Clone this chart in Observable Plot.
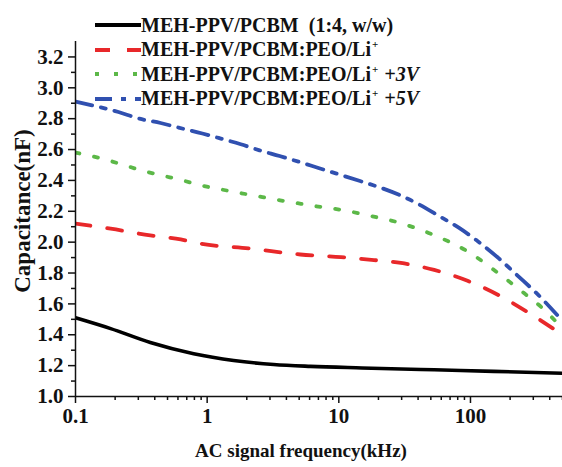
<!DOCTYPE html>
<html>
<head>
<meta charset="utf-8">
<script src="https://cdn.jsdelivr.net/npm/d3@7"></script>
<script src="https://cdn.jsdelivr.net/npm/@observablehq/plot@0.6"></script>
<style>
  html, body { margin: 0; padding: 0; background: #fff; }
  #wrap { position: relative; width: 562px; height: 467px; }
  #legend { position: absolute; left: 93px; top: 13px; font-family: "Liberation Serif", "Times New Roman", serif; font-weight: bold; font-size: 20px; color: #111; }
  .row { display: flex; align-items: center; height: 24.5px; white-space: nowrap; }
  .row svg { width: 48px; height: 10px; margin-right: 0px; }
  .row sup { font-size: 11px; vertical-align: 8px; margin-left: 1px; }
  .it { font-style: italic; margin-left: 6px; }
</style>
</head>
<body>
<div id="wrap"><div id="chart"></div><div id="legend"></div></div>
<script>
// ---- data ----
const seriesNames = [
  "MEH-PPV/PCBM (1:4, w/w)",
  "MEH-PPV/PCBM:PEO/Li+",
  "MEH-PPV/PCBM:PEO/Li+ +3V",
  "MEH-PPV/PCBM:PEO/Li+ +5V"
];
const blackFreq = [0.1, 0.185, 0.37, 0.79, 1.59, 3.2, 6.1, 15, 53, 150, 500];
const blackCap  = [1.51, 1.44, 1.35, 1.277, 1.233, 1.207, 1.195, 1.185, 1.173, 1.163, 1.151];

const redFreq = [0.1, 0.185, 0.37, 0.63, 0.893, 2.14, 5.1, 10.4, 18.5, 29.6, 53, 95, 165, 280, 500];
const redCap  = [2.12, 2.087, 2.044, 2.018, 1.99, 1.958, 1.92, 1.903, 1.884, 1.865, 1.82, 1.75, 1.655, 1.54, 1.40];

const greenFreq = [0.1, 0.169, 0.236, 0.329, 0.459, 0.65, 0.893, 1.27, 1.74, 2.43, 3.37, 4.72, 6.56, 9.13, 12.8, 18, 25, 48, 95, 180, 255, 355, 500];
const greenCap  = [2.58, 2.535, 2.498, 2.461, 2.431, 2.40, 2.368, 2.342, 2.32, 2.297, 2.275, 2.254, 2.234, 2.217, 2.195, 2.167, 2.14, 2.06, 1.94, 1.77, 1.67, 1.57, 1.44];

const blueFreq = [0.1, 0.212, 0.306, 0.443, 0.607, 0.92, 1.27, 1.8, 2.5, 3.55, 5.0, 7.1, 10.2, 14.5, 20.9, 29, 41, 57, 82, 110, 165, 230, 330, 500];
const blueCap  = [2.91, 2.843, 2.80, 2.772, 2.742, 2.704, 2.671, 2.634, 2.595, 2.558, 2.52, 2.479, 2.437, 2.396, 2.352, 2.305, 2.243, 2.172, 2.092, 2.015, 1.893, 1.78, 1.655, 1.49];

const xTickValues = [0.1, 1, 10, 100];
const xTickLabels = ["0.1", "1", "10", "100"];
const xMinorTicks = [0.2,0.3,0.4,0.5,0.6,0.7,0.8,0.9, 2,3,4,5,6,7,8,9, 20,30,40,50,60,70,80,90, 200,300,400,500];
const yTickValues = [1.0, 1.2, 1.4, 1.6, 1.8, 2.0, 2.2, 2.4, 2.6, 2.8, 3.0, 3.2];
const yTickLabels = ["1.0","1.2","1.4","1.6","1.8","2.0","2.2","2.4","2.6","2.8","3.0","3.2"];
const yMinorTicks = [1.1, 1.3, 1.5, 1.7, 1.9, 2.1, 2.3, 2.5, 2.7, 2.9, 3.1];
const xTitle = "AC signal frequency(kHz)";
const yTitle = "Capacitance(nF)";

// ---- styles ----
const colors = ["#000000", "#e8282a", "#5cb848", "#3050b0"];
const dashes = [null, "15,17", "4,15", "17,9,5,9"];

const groups = [
  [blackFreq, blackCap], [redFreq, redCap], [greenFreq, greenCap], [blueFreq, blueCap]
];
const data = groups.flatMap(([fs, cs], i) => fs.map((f, j) => ({f, c: cs[j], s: seriesNames[i], i})));

const font = '"Liberation Serif", "Times New Roman", serif';

const plot = Plot.plot({
  width: 562,
  height: 467,
  marginLeft: 75,
  marginRight: 0,
  marginTop: 41,
  marginBottom: 71,
  style: {fontFamily: font, fontWeight: "bold", fontSize: "21px", color: "#111", background: "#fff", overflow: "visible"},
  x: {type: "log", domain: [0.1, 500]},
  y: {domain: [1.0, 3.3]},
  marks: [
    ...groups.map((g, i) => Plot.line(data.filter(d => d.i === i), {
      x: "f", y: "c", stroke: colors[i], strokeWidth: i === 0 ? 3.6 : 3.8,
      strokeDasharray: dashes[i] || undefined, curve: "monotone-x", clip: true
    })),
    Plot.ruleX([0.1], {stroke: "#111", strokeWidth: 1.5}),
    Plot.ruleY([1.0], {stroke: "#111", strokeWidth: 1.5}),
    Plot.axisX(xTickValues, {tickSize: 7, tickPadding: 5, tickFormat: d => xTickLabels[xTickValues.indexOf(d)], label: null, fontSize: 21, fontWeight: "bold", strokeWidth: 1.5}),
    Plot.axisX(xMinorTicks, {tickSize: 4, tickFormat: () => "", label: null, strokeWidth: 1.5}),
    Plot.axisY(yTickValues, {tickSize: 7, tickPadding: 5, tickFormat: d => yTickLabels[yTickValues.indexOf(d)], label: null, fontSize: 21, fontWeight: "bold", strokeWidth: 1.5}),
    Plot.axisY(yMinorTicks, {tickSize: 4, tickFormat: () => "", label: null, strokeWidth: 1.5}),
    Plot.text([xTitle], {frameAnchor: "bottom", dx: -18, dy: 60, fontSize: 19, fontWeight: "bold", fill: "#111"}),
    Plot.text([yTitle], {frameAnchor: "left", textAnchor: "middle", rotate: -90, dx: -53, dy: -8, fontSize: 23, fontWeight: "bold", fill: "#111"})
  ]
});
document.getElementById("chart").appendChild(plot);

// ---- legend ----
const legend = document.getElementById("legend");
const labelsHtml = [
  "MEH-PPV/PCBM&nbsp; (1:4, w/w)",
  "MEH-PPV/PCBM:PEO/Li<sup>+</sup>",
  "MEH-PPV/PCBM:PEO/Li<sup>+</sup><span class='it'>+3V</span>",
  "MEH-PPV/PCBM:PEO/Li<sup>+</sup><span class='it'>+5V</span>"
];
seriesNames.forEach((name, i) => {
  const row = document.createElement("div");
  row.className = "row";
  const dash = dashes[i] ? `stroke-dasharray="${dashes[i]}"` : "";
  row.innerHTML = `<svg viewBox="0 0 48 10"><line x1="2" x2="48" y1="5" y2="5" stroke="${colors[i]}" stroke-width="3.8" ${dash}/></svg><span title="${name}">${labelsHtml[i]}</span>`;
  legend.appendChild(row);
});
</script>
</body>
</html>
